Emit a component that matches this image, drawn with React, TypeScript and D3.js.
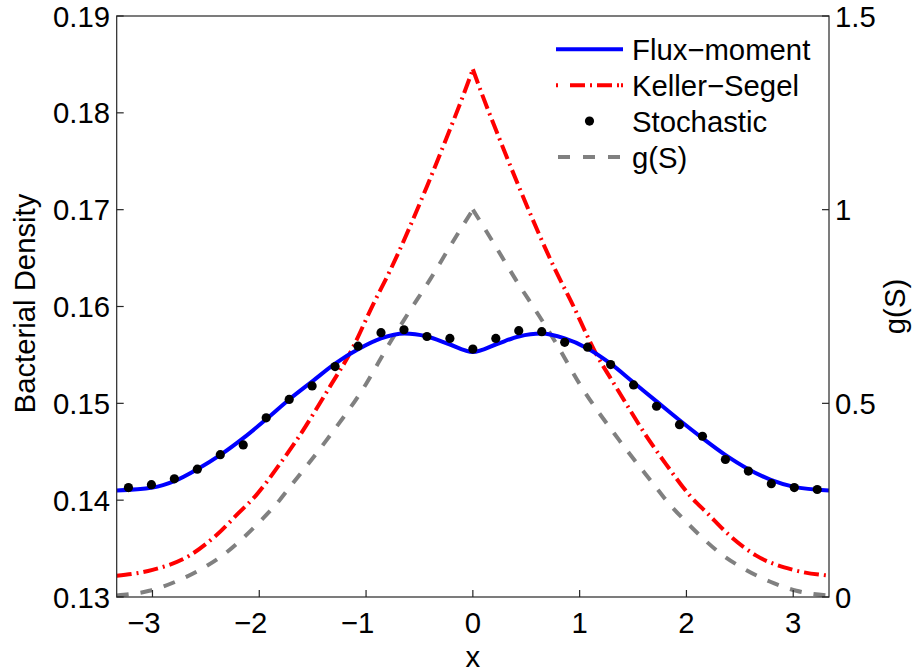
import * as d3 from "d3";
import { useRef, useEffect } from "react";

// Flux-moment model (left axis)
const fluxX = [
  -3.335, -3.0, -2.79, -2.58, -2.36, -2.15, -1.93, -1.72, -1.5, -1.29, -1.07,
  -0.86, -0.64, -0.43, -0.22, 0, 0.22, 0.43, 0.64, 0.86, 1.07, 1.29, 1.5, 1.72,
  1.93, 2.15, 2.36, 2.58, 2.79, 3.0, 3.335,
];
const fluxY = [
  0.141, 0.1413, 0.142, 0.1432, 0.1447, 0.1464, 0.1484, 0.1504, 0.1523, 0.1541,
  0.1556, 0.1567, 0.1572, 0.1569, 0.1561, 0.1553, 0.1561, 0.1569, 0.1572,
  0.1567, 0.1557, 0.1541, 0.1522, 0.1502, 0.1483, 0.1464, 0.1447, 0.1432,
  0.1421, 0.1414, 0.141,
];

// Keller-Segel (left axis)
const ksX = [
  -3.335, -3.0, -2.65, -2.4, -2.2, -2.03, -1.81, -1.65, -1.34, -1.15, -0.93,
  -0.78, -0.43, -0.25, -0.09, 0, 0.09, 0.25, 0.43, 0.78, 0.93, 1.15, 1.34, 1.65,
  1.81, 2.03, 2.2, 2.4, 2.65, 3.0, 3.335,
];
const ksY = [
  0.1322, 0.1328, 0.1343, 0.1364, 0.1386, 0.1405, 0.1437, 0.1462, 0.1517,
  0.1552, 0.1603, 0.1636, 0.1724, 0.1773, 0.1818, 0.1845, 0.1818, 0.1773,
  0.1724, 0.1636, 0.1603, 0.1552, 0.1517, 0.1462, 0.1437, 0.1405, 0.1386,
  0.1364, 0.1343, 0.1328, 0.1322,
];

// Stochastic simulation (left axis)
const stochX = [
  -3.225, -3.01, -2.795, -2.58, -2.365, -2.15, -1.935, -1.72, -1.505, -1.29,
  -1.075, -0.86, -0.645, -0.43, -0.215, 0, 0.215, 0.43, 0.645, 0.86, 1.075,
  1.29, 1.505, 1.72, 1.935, 2.15, 2.365, 2.58, 2.795, 3.01, 3.225,
];
const stochY = [
  0.1413, 0.1416, 0.1422, 0.1432, 0.1447, 0.1457, 0.1485, 0.1504, 0.1518,
  0.1538, 0.1559, 0.1573, 0.1576, 0.1569, 0.1567, 0.1556, 0.1567, 0.1575,
  0.1574, 0.1563, 0.1558, 0.154, 0.1519, 0.1497, 0.1478, 0.1466, 0.1442, 0.143,
  0.1417, 0.1413, 0.1411,
];

// g(S) (right axis)
const gX = [
  -3.335, -3.03, -2.78, -2.53, -2.34, -2.03, -1.81, -1.71, -1.37, -1.0, -0.78,
  -0.606, -0.4, -0.216, -0.091, 0, 0.091, 0.216, 0.4, 0.606, 0.78, 1.0, 1.37,
  1.71, 1.81, 2.03, 2.34, 2.53, 2.78, 3.03, 3.335,
];
const gY = [
  0.004, 0.016, 0.04, 0.074, 0.108, 0.185, 0.25, 0.285, 0.405, 0.55, 0.655,
  0.732, 0.82, 0.904, 0.96, 1.0, 0.96, 0.904, 0.82, 0.732, 0.655, 0.55, 0.405,
  0.285, 0.25, 0.185, 0.108, 0.074, 0.04, 0.016, 0.004,
];

const xTicks = [-3, -2, -1, 0, 1, 2, 3];
const xTickLabels = ["\u22123", "\u22122", "\u22121", "0", "1", "2", "3"];
const yLeftTicks = [0.13, 0.14, 0.15, 0.16, 0.17, 0.18, 0.19];
const yLeftLabels = ["0.13", "0.14", "0.15", "0.16", "0.17", "0.18", "0.19"];
const yRightTicks = [0, 0.5, 1, 1.5];
const yRightLabels = ["0", "0.5", "1", "1.5"];

const legendNames = ["Flux\u2212moment", "Keller\u2212Segel", "Stochastic", "g(S)"];

export default function App() {
  const ref = useRef<SVGSVGElement | null>(null);
  const width = 920;
  const height = 672;
  const left = 116.7;
  const right = 829;
  const top = 16;
  const bottom = 597;
  const font = "'Liberation Sans', Arial, Helvetica, sans-serif";
  const fs = 29.3;

  useEffect(() => {
    const svg = d3.select(ref.current);
    svg.selectAll("*").remove();

    const x = d3.scaleLinear().domain([-3.335, 3.335]).range([left, right]);
    const yL = d3.scaleLinear().domain([0.13, 0.19]).range([bottom, top]);
    const yR = d3.scaleLinear().domain([0, 1.5]).range([bottom, top]);

    svg
      .append("defs")
      .append("clipPath")
      .attr("id", "plot-clip")
      .append("rect")
      .attr("x", left)
      .attr("y", top)
      .attr("width", right - left)
      .attr("height", bottom - top);

    const plot = svg.append("g").attr("clip-path", "url(#plot-clip)");

    // path through xs/ys on the given y scale; split at x=0 so the peak cusp stays sharp
    const pathFor = (
      xs: number[],
      ys: number[],
      yScale: d3.ScaleLinear<number, number>,
      split: boolean,
    ) => {
      const pts: [number, number][] = xs.map((d, i) => [x(d), yScale(ys[i])]);
      const gen = d3.line().curve(d3.curveMonotoneX);
      if (!split) return gen(pts) || "";
      const mid = xs.indexOf(0);
      return (gen(pts.slice(0, mid + 1)) || "") + (gen(pts.slice(mid)) || "");
    };

    // g(S)
    plot
      .append("path")
      .attr("d", pathFor(gX, gY, yR, true))
      .attr("fill", "none")
      .attr("stroke", "#808080")
      .attr("stroke-width", 4)
      .attr("stroke-dasharray", "12 12");

    // Keller-Segel
    plot
      .append("path")
      .attr("d", pathFor(ksX, ksY, yL, true))
      .attr("fill", "none")
      .attr("stroke", "#ff0000")
      .attr("stroke-width", 4)
      .attr("stroke-dasharray", "15 5 2 5");

    // Flux-moment
    plot
      .append("path")
      .attr("d", pathFor(fluxX, fluxY, yL, false))
      .attr("fill", "none")
      .attr("stroke", "#0000ff")
      .attr("stroke-width", 4)
      .attr("stroke-linejoin", "round");

    // Stochastic dots
    plot
      .append("g")
      .selectAll("circle")
      .data(stochX)
      .join("circle")
      .attr("cx", (d) => x(d))
      .attr("cy", (_, i) => yL(stochY[i]))
      .attr("r", 4.6)
      .attr("fill", "#000");

    // Frame
    svg
      .append("rect")
      .attr("x", left)
      .attr("y", top)
      .attr("width", right - left)
      .attr("height", bottom - top)
      .attr("fill", "none")
      .attr("stroke", "#262626")
      .attr("stroke-width", 1.2);

    const axes = svg
      .append("g")
      .attr("font-family", font)
      .attr("font-size", fs)
      .attr("fill", "#000");

    // x ticks (digit centred on tick, minus hangs left)
    xTicks.forEach((t, i) => {
      axes
        .append("line")
        .attr("x1", x(t))
        .attr("x2", x(t))
        .attr("y1", bottom)
        .attr("y2", bottom - 7)
        .attr("stroke", "#262626")
        .attr("stroke-width", 1.2);
      axes
        .append("text")
        .attr("x", x(t) + fs * 0.278)
        .attr("y", 633)
        .attr("text-anchor", "end")
        .text(xTickLabels[i]);
    });

    // left y ticks
    yLeftTicks.forEach((t, i) => {
      axes
        .append("line")
        .attr("x1", left)
        .attr("x2", left + 7)
        .attr("y1", yL(t))
        .attr("y2", yL(t))
        .attr("stroke", "#262626")
        .attr("stroke-width", 1.2);
      axes
        .append("text")
        .attr("x", 110)
        .attr("y", yL(t) + 10.5)
        .attr("text-anchor", "end")
        .text(yLeftLabels[i]);
    });

    // right y ticks
    yRightTicks.forEach((t, i) => {
      axes
        .append("line")
        .attr("x1", right)
        .attr("x2", right - 7)
        .attr("y1", yR(t))
        .attr("y2", yR(t))
        .attr("stroke", "#262626")
        .attr("stroke-width", 1.2);
      axes
        .append("text")
        .attr("x", 835)
        .attr("y", yR(t) + 10.5)
        .attr("text-anchor", "start")
        .text(yRightLabels[i]);
    });

    // axis labels
    axes
      .append("text")
      .attr("text-anchor", "middle")
      .attr("transform", `translate(35,${(top + bottom) / 2 - 3}) rotate(-90)`)
      .text("Bacterial Density");
    axes
      .append("text")
      .attr("text-anchor", "middle")
      .attr("transform", `translate(905,${(top + bottom) / 2}) rotate(-90)`)
      .text("g(S)");
    axes
      .append("text")
      .attr("text-anchor", "middle")
      .attr("x", x(0))
      .attr("y", 667)
      .text("x");

    // legend
    const rowY = [49.3, 85.2, 121.1, 157];
    const lg = svg.append("g").attr("font-family", font).attr("font-size", fs);
    const lx1 = 556;
    const lx2 = 623;
    lg.append("line")
      .attr("x1", lx1).attr("x2", lx2).attr("y1", rowY[0]).attr("y2", rowY[0])
      .attr("stroke", "#0000ff").attr("stroke-width", 4);
    lg.append("line")
      .attr("x1", lx1).attr("x2", lx2).attr("y1", rowY[1]).attr("y2", rowY[1])
      .attr("stroke", "#ff0000").attr("stroke-width", 4)
      .attr("stroke-dasharray", "2 12 15 5 2 5 15 5 2");
    lg.append("circle")
      .attr("cx", (lx1 + lx2) / 2).attr("cy", rowY[2]).attr("r", 4.6).attr("fill", "#000");
    lg.append("line")
      .attr("x1", lx1 + 2).attr("x2", lx2).attr("y1", rowY[3]).attr("y2", rowY[3])
      .attr("stroke", "#808080").attr("stroke-width", 4)
      .attr("stroke-dasharray", "12 13");
    legendNames.forEach((name, i) => {
      lg.append("text")
        .attr("x", 632)
        .attr("y", rowY[i] + 11)
        .text(name);
    });

    return () => {
      svg.selectAll("*").remove();
    };
  }, []);

  return (
    <svg
      ref={ref}
      width={width}
      height={height}
      style={{ position: "absolute", left: 0, top: 0, background: "#fff" }}
    />
  );
}
